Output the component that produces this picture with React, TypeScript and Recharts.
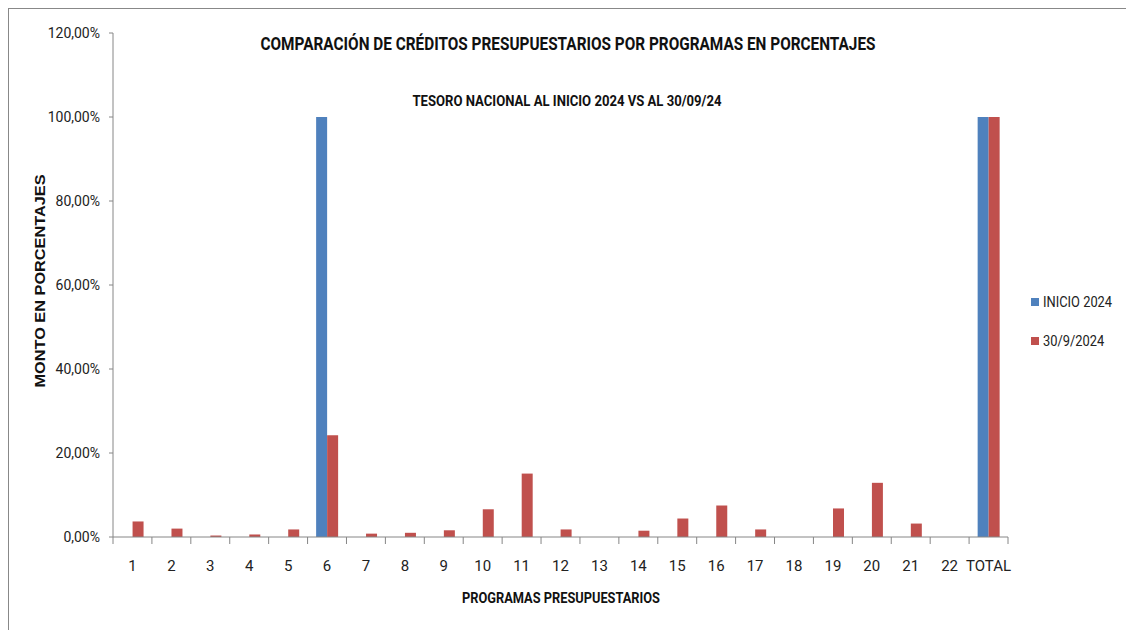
import { BarChart, Bar, XAxis, YAxis, Legend } from "recharts";

const programas = ["1", "2", "3", "4", "5", "6", "7", "8", "9", "10", "11", "12", "13", "14", "15", "16", "17", "18", "19", "20", "21", "22", "TOTAL"];
const inicio2024 = [0, 0, 0, 0, 0, 100, 0, 0, 0, 0, 0, 0, 0, 0, 0, 0, 0, 0, 0, 0, 0, 0, 100];
const al30092024 = [3.7, 2.0, 0.35, 0.6, 1.8, 24.2, 0.8, 1.0, 1.6, 6.6, 15.1, 1.8, 0, 1.5, 4.4, 7.5, 1.8, 0, 6.8, 12.9, 3.2, 0, 100];
const yTicks = [0, 20, 40, 60, 80, 100, 120];

const data = programas.map((p, i) => ({
	programa: p,
	inicio: inicio2024[i],
	fin: al30092024[i],
}));

const AXIS = "#868686";
const NARROW = "'Liberation Sans Narrow', Roboto, sans-serif";

const fmtPct = (v: number) => v.toFixed(2).replace(".", ",") + "%";

function XTick(props: any) {
	const { x, y, payload, index } = props;
	const half = payload && payload.offset ? payload.offset : 19.5;
	const last = index === programas.length - 1;
	return (
		<g>
			<line x1={x - half} x2={x - half} y1={y} y2={y + 7} stroke={AXIS} />
			{last && <line x1={x + half} x2={x + half} y1={y} y2={y + 7} stroke={AXIS} />}
			<text x={x} y={y + 34} textAnchor="middle" fontSize={15} fontFamily={NARROW} fill="#222">
				{payload.value}
			</text>
		</g>
	);
}

function renderLegend() {
	const items = [
		{ label: "INICIO 2024", color: "#4F81BD" },
		{ label: "30/9/2024", color: "#C0504D" },
	];
	return (
		<div style={{ position: "relative", height: 60 }}>
			{items.map((it, i) => (
				<div
					key={it.label}
					style={{
						position: "absolute",
						top: i * 39,
						left: 2,
						height: 16,
						display: "flex",
						alignItems: "center",
						whiteSpace: "nowrap",
					}}>
					<span style={{ width: 8, height: 8, background: it.color, marginRight: 4 }} />
					<span
						style={{
							fontFamily: NARROW,
							fontSize: 14,
							color: "#222",
							display: "inline-block",
							transform: "scaleX(0.92)",
							transformOrigin: "left center",
						}}>
						{it.label}
					</span>
				</div>
			))}
		</div>
	);
}

export default function App() {
	return (
		<div
			style={{
				position: "fixed",
				left: 8,
				top: 8,
				width: 1130,
				height: 630,
				borderTop: "1px solid #888",
				borderLeft: "1px solid #888",
				background: "#fff",
				overflow: "hidden",
			}}>
			<BarChart
				width={1117}
				height={621}
				data={data}
				margin={{ top: 24, right: 18, left: 34, bottom: 53 }}
				barCategoryGap="22%"
				barGap={0}>
				<XAxis
					dataKey="programa"
					interval={0}
					tickSize={0}
					tickMargin={0}
					tickLine={false}
					stroke={AXIS}
					height={40}
					tick={<XTick />}
				/>
				<YAxis
					domain={[0, 120]}
					ticks={yTicks}
					tickFormatter={fmtPct}
					width={70}
					tickSize={4}
					tickMargin={9}
					stroke={AXIS}
					tick={{ fontSize: 14, fontFamily: NARROW, fill: "#222" }}
				/>
				<Legend
					layout="vertical"
					align="right"
					verticalAlign="middle"
					wrapperStyle={{ left: 1020, top: 285, width: 100 }}
					content={renderLegend}
				/>
				<Bar dataKey="inicio" name="INICIO 2024" fill="#4F81BD" isAnimationActive={false} />
				<Bar dataKey="fin" name="30/9/2024" fill="#C0504D" isAnimationActive={false} />
			</BarChart>
			<svg
				width={1117}
				height={621}
				style={{ position: "absolute", left: 0, top: 0, pointerEvents: "none" }}>
				<text x={559} y={41} textAnchor="middle" fontSize={19} fontWeight="bold" fontFamily={NARROW} fill="#111" textLength={615} lengthAdjust="spacingAndGlyphs">
					COMPARACIÓN DE CRÉDITOS PRESUPUESTARIOS POR PROGRAMAS EN PORCENTAJES
				</text>
				<text x={558} y={97} textAnchor="middle" fontSize={14} fontWeight="bold" fontFamily={NARROW} fill="#111" textLength={309} lengthAdjust="spacingAndGlyphs">
					TESORO NACIONAL AL INICIO 2024 VS AL 30/09/24
				</text>
				<text x={552} y={594} textAnchor="middle" fontSize={15} fontWeight="bold" fontFamily={NARROW} fill="#111" textLength={198} lengthAdjust="spacingAndGlyphs">
					PROGRAMAS PRESUPUESTARIOS
				</text>
				<text
					x={0}
					y={0}
					transform="translate(36, 272) rotate(-90)"
					textAnchor="middle"
					fontSize={14}
					fontWeight="bold"
					fontFamily="'Liberation Sans', Arial, sans-serif"
					fill="#111"
					textLength={213}
					lengthAdjust="spacingAndGlyphs">
					MONTO EN PORCENTAJES
				</text>
			</svg>
		</div>
	);
}
